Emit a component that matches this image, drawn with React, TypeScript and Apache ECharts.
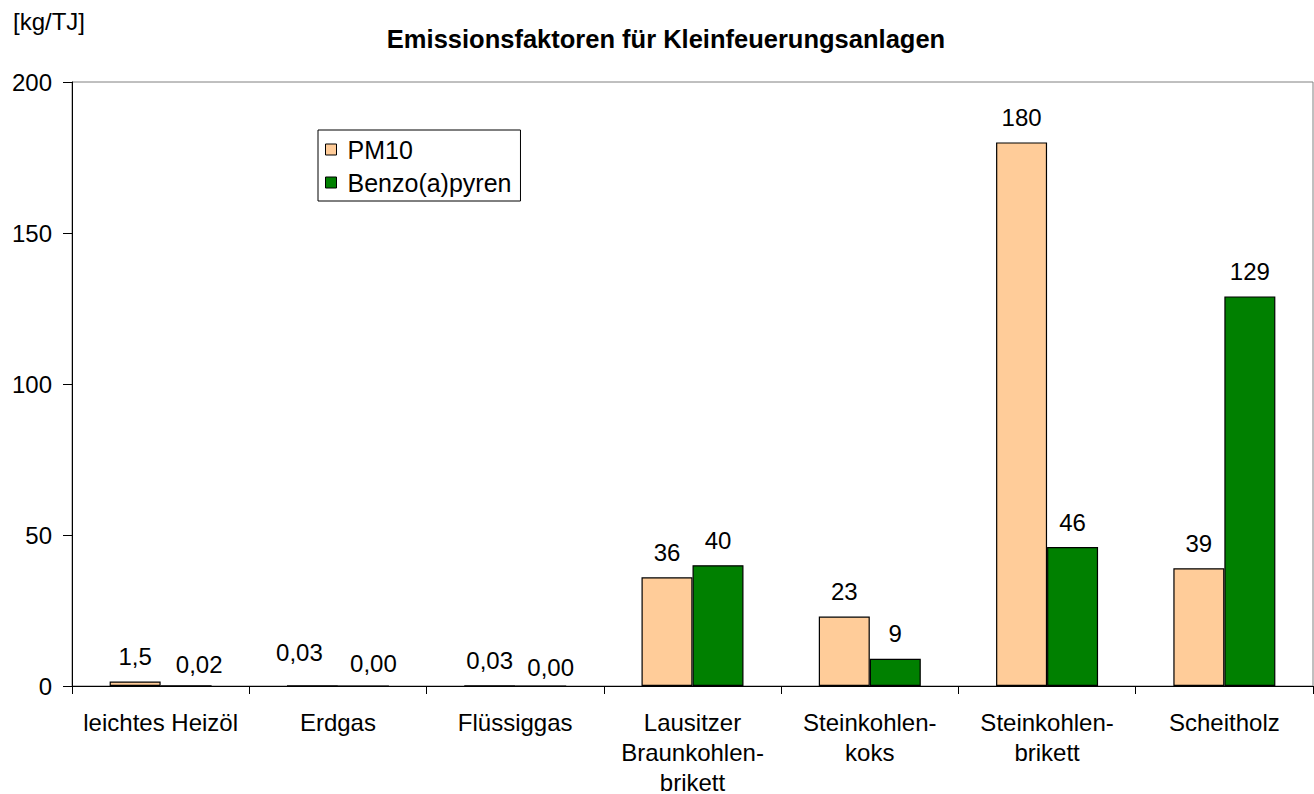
import React, { useEffect, useRef } from "react";
import * as echarts from "echarts";

const categories = [
  "leichtes Heizöl",
  "Erdgas",
  "Flüssiggas",
  "Lausitzer\nBraunkohlen-\nbrikett",
  "Steinkohlen-\nkoks",
  "Steinkohlen-\nbrikett",
  "Scheitholz",
];
const pm10 = [1.5, 0.03, 0.03, 36, 23, 180, 39];
const pm10Labels = ["1,5", "0,03", "0,03", "36", "23", "180", "39"];
const bap = [0.02, 0.0, 0.0, 40, 9, 46, 129];
const bapLabels = ["0,02", "0,00", "0,00", "40", "9", "46", "129"];
const yTicks = [0, 50, 100, 150, 200];

// label nudges (style only) to mimic the original's overlap avoidance
const pm10LabelOffsets = [[0, 0], [-13, -8], [0, 0], [0, 0], [0, 0], [0, 0], [0, 0]];
const bapLabelOffsets = [[13, 4], [10, 3], [10, 7], [0, 0], [0, 0], [0, 0], [0, 0]];

const FONT = "Liberation Sans, Arial, sans-serif";

export default function App() {
  const ref = useRef<HTMLDivElement>(null);
  useEffect(() => {
    const chart = echarts.init(ref.current!, null, { renderer: "svg" });
    const labelStyle = {
      show: true,
      position: "top",
      distance: 13,
      color: "#000",
      fontFamily: FONT,
      fontSize: 24,
    };
    const build = (vals: number[], labels: string[], offs: number[][]) =>
      vals.map((v, i) => ({
        value: v,
        label: { formatter: labels[i], offset: offs[i] },
      }));
    chart.setOption({
      animation: false,
      backgroundColor: "#fff",
      textStyle: { fontFamily: FONT },
      title: [
        {
          text: "Emissionsfaktoren für Kleinfeuerungsanlagen",
          left: 661,
          top: 21,
          textAlign: "center",
          textStyle: { fontFamily: FONT, fontSize: 25.5, fontWeight: "bold", color: "#000" },
        },
        {
          text: "[kg/TJ]",
          left: 8,
          top: 4,
          textStyle: { fontFamily: FONT, fontSize: 24, fontWeight: "normal", color: "#000" },
        },
      ],
      legend: {
        left: 318,
        top: 130,
        orient: "vertical",
        itemWidth: 11,
        itemHeight: 11,
        itemGap: 8,
        padding: [7, 9, 6, 7],
        borderColor: "#000",
        borderWidth: 1,
        backgroundColor: "#fff",
        icon: "rect",
        itemStyle: { borderColor: "#000", borderWidth: 1 },
        textStyle: { fontFamily: FONT, fontSize: 25, color: "#000", padding: [0, 0, 0, 6] },
        data: ["PM10", "Benzo(a)pyren"],
      },
      grid: {
        left: 72,
        top: 82,
        right: 1,
        bottom: 108,
        outerBoundsMode: "none",
        containLabel: false,
        show: true,
        borderColor: "#808080",
        borderWidth: 1,
      },
      xAxis: {
        type: "category",
        data: categories,
        axisLine: { lineStyle: { color: "#000", width: 1 } },
        axisTick: { show: true, length: 8, lineStyle: { color: "#000" } },
        axisLabel: {
          color: "#000",
          fontFamily: FONT,
          fontSize: 24,
          lineHeight: 30,
          margin: 21,
          interval: 0,
        },
      },
      yAxis: {
        type: "value",
        min: 0,
        max: 200,
        interval: 50,
        splitLine: { show: false },
        axisLine: { show: true, lineStyle: { color: "#000", width: 1 } },
        axisTick: { show: true, length: 9, lineStyle: { color: "#000" } },
        axisLabel: {
          color: "#000",
          fontFamily: FONT,
          fontSize: 24,
          margin: 20,
          customValues: yTicks,
        },
      },
      series: [
        {
          name: "PM10",
          type: "bar",
          data: build(pm10, pm10Labels, pm10LabelOffsets),
          barWidth: 51,
          barGap: "0%",
          itemStyle: { color: "#FFCC99", borderColor: "#000", borderWidth: 1.2 },
          label: labelStyle,
        },
        {
          name: "Benzo(a)pyren",
          type: "bar",
          data: build(bap, bapLabels, bapLabelOffsets),
          barWidth: 51,
          barGap: "0%",
          itemStyle: { color: "#008000", borderColor: "#000", borderWidth: 1.2 },
          label: labelStyle,
        },
      ],
    });
    return () => chart.dispose();
  }, []);
  return (
    <div
      ref={ref}
      style={{ position: "fixed", left: 0, top: 0, width: 1314, height: 794, background: "#fff" }}
    />
  );
}
